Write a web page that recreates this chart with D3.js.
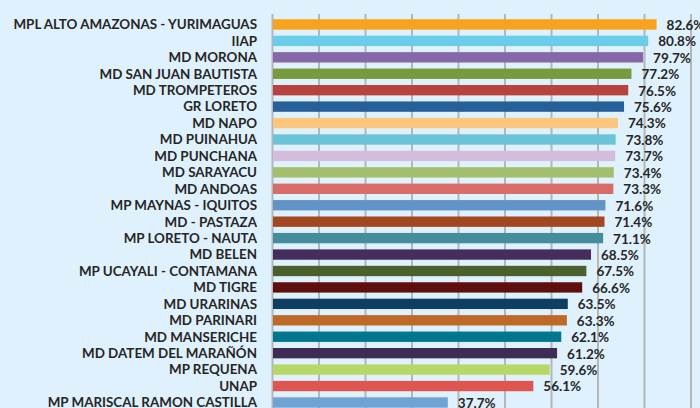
<!DOCTYPE html>
<html>
<head>
<meta charset="utf-8">
<script src="https://cdn.jsdelivr.net/npm/d3@7"></script>
<style>
  body { margin: 0; background: #dff1fc; }
  svg { display: block; }
</style>
</head>
<body>
<script>
const categories = [
  "MPL ALTO AMAZONAS - YURIMAGUAS", "IIAP", "MD MORONA", "MD SAN JUAN BAUTISTA",
  "MD TROMPETEROS", "GR LORETO", "MD NAPO", "MD PUINAHUA", "MD PUNCHANA",
  "MD SARAYACU", "MD ANDOAS", "MP MAYNAS - IQUITOS", "MD - PASTAZA",
  "MP LORETO - NAUTA", "MD BELEN", "MP UCAYALI - CONTAMANA", "MD TIGRE",
  "MD URARINAS", "MD PARINARI", "MD MANSERICHE", "MD DATEM DEL MARAÑÓN",
  "MP REQUENA", "UNAP", "MP MARISCAL RAMON CASTILLA"
];
const values = [82.6, 80.8, 79.7, 77.2, 76.5, 75.6, 74.3, 73.8, 73.7, 73.4, 73.3, 71.6,
  71.4, 71.1, 68.5, 67.5, 66.6, 63.5, 63.3, 62.1, 61.2, 59.6, 56.1, 37.7];
const colors = [
  "#f8a21e", "#6bcdea", "#8468a9", "#789a3d", "#b8423f", "#25609a", "#fec67c",
  "#6bc3d7", "#d4bcdc", "#a3bf6d", "#d76c69", "#6393c6", "#a24720", "#458c9c",
  "#452d5d", "#4a602d", "#5e0f0d", "#0f3e63", "#bd6a29", "#02768f", "#3e2c54",
  "#b7d867", "#de5651", "#6fa3d6"
];
const gridTicks = [0, 10, 20, 30, 40, 50, 60, 70, 80, 90];

const width = 700, height = 408;
const svg = d3.select("body").append("svg")
  .attr("width", width)
  .attr("height", height);

const x = d3.scaleLinear().domain([0, 90]).range([272.5, 691]);
const y = d3.scaleBand().domain(categories)
  .range([16.3, 16.3 + 16.43 * categories.length])
  .paddingInner(0.37).paddingOuter(0.18);

// vertical grid lines
svg.append("g")
  .selectAll("line")
  .data(gridTicks)
  .join("line")
  .attr("x1", d => x(d)).attr("x2", d => x(d))
  .attr("y1", 14).attr("y2", height)
  .attr("stroke", "#b4b6b8")
  .attr("stroke-width", 2);

svg.append("g")
  .selectAll("rect")
  .data(values)
  .join("rect")
  .attr("x", x(0) + 0.5)
  .attr("y", (d, i) => y(categories[i]))
  .attr("width", d => x(d) - x(0) - 0.5)
  .attr("height", y.bandwidth())
  .attr("fill", (d, i) => colors[i]);

svg.append("g")
  .selectAll("text")
  .data(categories)
  .join("text")
  .attr("x", 257)
  .attr("y", d => y(d) + y.bandwidth() / 2)
  .attr("dy", "0.36em")
  .attr("text-anchor", "end")
  .attr("font-family", "Lato, 'Open Sans', sans-serif")
  .attr("font-weight", "bold")
  .attr("font-size", 13.4)
  .attr("fill", "#262626")
  .text(d => d);

svg.append("g")
  .selectAll("text")
  .data(values)
  .join("text")
  .attr("x", d => x(d) + 10)
  .attr("y", (d, i) => y(categories[i]) + y.bandwidth() / 2)
  .attr("dy", "0.4em")
  .attr("font-family", "Lato, 'Open Sans', sans-serif")
  .attr("font-weight", "bold")
  .attr("font-size", 13.5)
  .attr("fill", "#262626")
  .text(d => d.toFixed(1) + "%");
</script>
</body>
</html>
